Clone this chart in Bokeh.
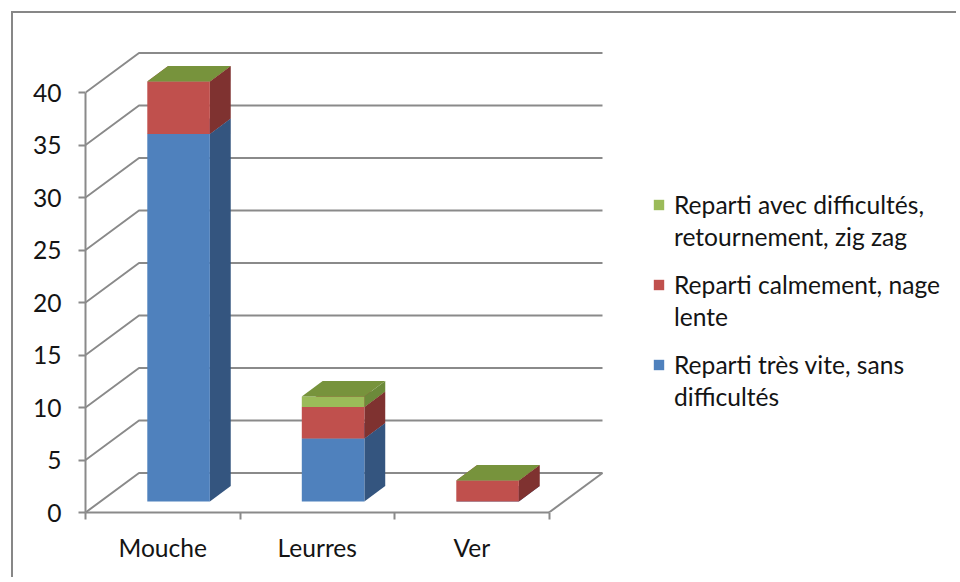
from bokeh.plotting import figure
from bokeh.models import FixedTicker, Legend, LegendItem
from bokeh.embed import file_html
from bokeh.resources import INLINE

# ---- data ----
categories = ["Mouche", "Leurres", "Ver"]
blue_vals = [35, 6, 0]    # Reparti très vite, sans difficultés
red_vals = [5, 3, 2]      # Reparti calmement, nage lente
green_vals = [0, 1, 0]    # Reparti avec difficultés, retournement, zig zag
series_label_lines = [
    ["Reparti très vite, sans", "difficultés"],
    ["Reparti calmement, nage", "lente"],
    ["Reparti avec difficultés,", "retournement, zig zag"],
]
y_ticks = [0, 5, 10, 15, 20, 25, 30, 35, 40]

# ---- styles ----
FONT = "Lato"
FS = "24.6px"
TXT = "#141414"
GRID = "#8a8a8a"
front_cols = ["#4F81BD", "#C0504D", "#9BBB59"]
side_cols = ["#34557F", "#7F3230", "#6C8A3A"]
top_cols = ["#416A9E", "#A0423F", "#77933C"]

PXX, PXY = 154.5, 10.5
DX, DY = 53.5 / PXX, 39.5 / PXY          # full depth of floor / walls (data units)
F0, F1 = 0.28, 0.67                      # bar depth fractions
BX0, BX1 = 0.303, 0.708                  # bar left/right inside category
YMAX = max(y_ticks)
NCAT = len(categories)

p = figure(width=945, height=566, x_range=(0, 865 / PXX), y_range=(0, 468 / PXY),
           output_backend="svg", toolbar_location=None,
           min_border_left=72, min_border_right=8, min_border_top=31, min_border_bottom=67)
p.margin = (11, 0, 0, 11)
p.styles = {"border-left": "2px solid #878787", "border-top": "2px solid #878787"}
p.xgrid.visible = False
p.ygrid.visible = False
p.outline_line_color = None
p.background_fill_color = "white"
p.border_fill_color = "white"

# walls / floor gridlines
gx = [[0, DX, NCAT + DX] for v in y_ticks]
gy = [[v, v + DY, v + DY] for v in y_ticks]
p.multi_line(gx, gy, line_color=GRID, line_width=2)
p.line([NCAT, NCAT + DX], [0, DY], line_color=GRID, line_width=2)

# bars
ox0, oy0 = F0 * DX, F0 * DY
bdx, bdy = (F1 - F0) * DX, (F1 - F0) * DY
series = [blue_vals, red_vals, green_vals]
front_renderers = []
base = [0.0] * NCAT
for s, vals in enumerate(series):
    fxs, fys, sxs, sys_, txs, tys = [], [], [], [], [], []
    for i, v in enumerate(vals):
        x0 = i + BX0 + ox0
        x1 = i + BX1 + ox0
        y0 = base[i] + oy0
        y1 = base[i] + v + oy0
        fxs.append([x0, x1, x1, x0]); fys.append([y0, y0, y1, y1])
        sxs.append([x1, x1 + bdx, x1 + bdx, x1]); sys_.append([y0, y0 + bdy, y1 + bdy, y1])
        txs.append([x0, x1, x1 + bdx, x0 + bdx]); tys.append([y1, y1, y1 + bdy, y1 + bdy])
        base[i] += v
    p.patches(sxs, sys_, fill_color=side_cols[s], line_color=None)
    fr = p.patches(fxs, fys, fill_color=front_cols[s], line_color=None)
    p.patches(txs, tys, fill_color=top_cols[s], line_color=None)
    front_renderers.append(fr)

# axes
xa = p.xaxis[0]
xa.ticker = FixedTicker(ticks=[i + 0.5 for i in range(NCAT)], minor_ticks=list(range(NCAT + 1)))
xa.major_label_overrides = {i + 0.5: c for i, c in enumerate(categories)}
xa.bounds = (0, NCAT)
xa.major_tick_out = 0
xa.major_tick_in = 0
xa.minor_tick_out = 7
xa.minor_tick_in = 0
xa.minor_tick_line_color = GRID
xa.minor_tick_line_width = 2
xa.axis_line_color = GRID
xa.axis_line_width = 2
xa.major_label_standoff = 13
xa.major_label_text_font = FONT
xa.major_label_text_font_size = FS
xa.major_label_text_color = TXT

ya = p.yaxis[0]
ya.ticker = FixedTicker(ticks=y_ticks)
ya.bounds = (0, YMAX)
ya.major_tick_out = 7
ya.major_tick_in = 0
ya.minor_tick_line_color = None
ya.major_tick_line_color = GRID
ya.major_tick_line_width = 2
ya.axis_line_color = GRID
ya.axis_line_width = 2
ya.major_label_standoff = 17
ya.major_label_text_font = FONT
ya.major_label_text_font_size = FS
ya.major_label_text_color = TXT

# legend: one block per series, first line carries the swatch
dummy = p.scatter([], [], fill_alpha=0, line_alpha=0)
legend_bottoms = [100, 180, 260]   # blue, red, green blocks (screen px above frame bottom)
for s in (2, 1, 0):
    l1, l2 = series_label_lines[s]
    lg = Legend(
        items=[LegendItem(label=l1, renderers=[front_renderers[s]]),
               LegendItem(label=l2, renderers=[dummy])],
        location=(567, legend_bottoms[s]), orientation="vertical",
        glyph_width=13, glyph_height=13, label_standoff=9, spacing=0,
        label_height=32, padding=0, margin=0, border_line_color=None,
        background_fill_alpha=0, label_text_font=FONT, label_text_font_size=FS,
        label_text_color=TXT,
    )
    p.add_layout(lg)

open("out.html", "w").write(file_html(p, INLINE))
